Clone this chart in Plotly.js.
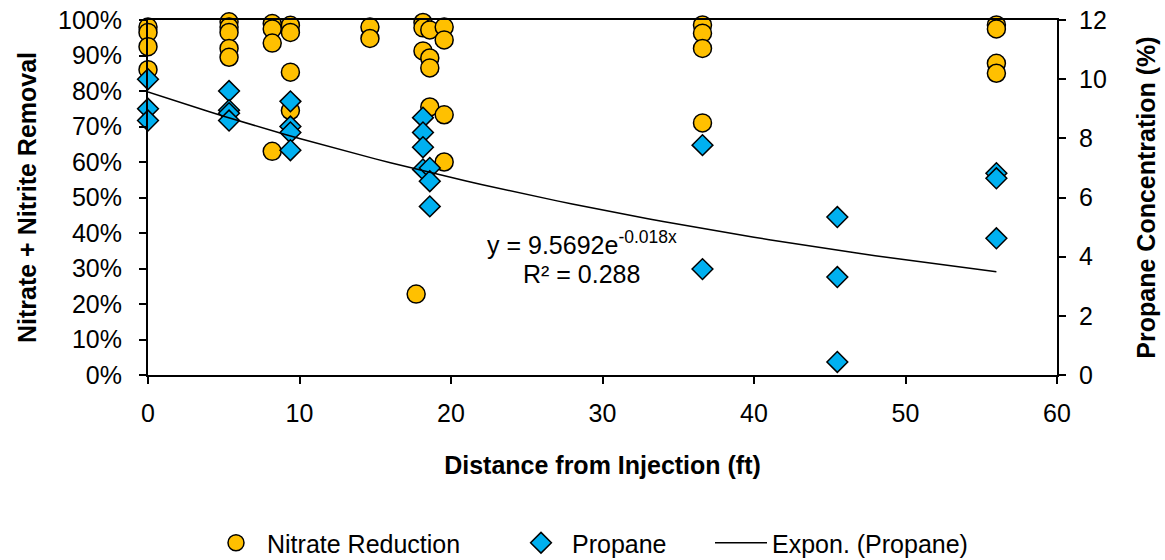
<!DOCTYPE html>
<html>
<head>
<meta charset="utf-8">
<script src="https://cdn.plot.ly/plotly-3.0.1.min.js"></script>
<style>html,body{margin:0;padding:0;background:#fff;}#chart{width:1165px;height:560px;}</style>
</head>
<body>
<div id="chart"></div>
<script>
// Nitrate + nitrite removal (%) vs distance (ft)
const nitrateX = [0,0,0,0,
  5.35,5.35,5.35,5.35,5.35,
  8.2,8.2,8.2,8.2,
  9.4,9.4,9.4,9.4,
  14.65,14.65,
  17.7,
  18.15,18.15,18.15,
  18.6,18.6,18.6,18.6,
  19.55,19.55,19.55,19.55,
  36.6,36.6,36.6,36.6,
  56,56,56,56];
const nitrateY = [98,96.5,92.5,86,
  99.5,98,96.5,92,89.5,
  99,97.5,93.5,63,
  98.5,96.5,85.3,74.5,
  98,94.8,
  22.8,
  99.3,97.8,91.3,
  97.2,89.3,86.5,75.5,
  98,94.4,73.3,60,
  98.6,96.3,92,71,
  98.6,97.5,87.8,85];

// Propane concentration (%) vs distance (ft)
const propaneX = [0,0,0,
  5.35,5.35,5.35,5.35,
  9.4,9.4,9.4,9.4,
  18.15,18.15,18.15,18.15,
  18.6,18.6,18.6,
  36.6,36.6,
  45.5,45.5,45.5,
  56,56,56];
const propaneY = [10.0,9.0,8.6,
  9.6,8.95,8.85,8.6,
  9.25,8.4,8.2,7.6,
  8.7,8.2,7.7,6.95,
  7.0,6.55,5.7,
  7.77,3.58,
  5.34,3.31,0.44,
  6.82,6.65,4.62];

// Exponential trendline shown on the chart: y = 9.5692 e^(-0.018x)
const trendA = 9.5692;
const trendB = -0.018;

const xTicks = [0,10,20,30,40,50,60];
const leftTicks = [0,10,20,30,40,50,60,70,80,90,100];
const rightTicks = [0,2,4,6,8,10,12];

const xMax = Math.max(...propaneX);
const trendX = [];
for (let i = 0; i <= 56; i++) trendX.push(xMax * i / 56);
const trendY = trendX.map(x => trendA * Math.exp(trendB * x));

const FONT = "Liberation Sans, Arial, sans-serif";
const FS = 25;

const traces = [
  {
    x: nitrateX, y: nitrateY, name: 'Nitrate Reduction', type: 'scatter', mode: 'markers',
    marker: {symbol: 'circle', size: 18, color: '#FFC000', line: {color: '#000', width: 1.5}},
    yaxis: 'y', cliponaxis: false, legend: 'legend'
  },
  {
    x: propaneX, y: propaneY, name: 'Propane', type: 'scatter', mode: 'markers',
    marker: {symbol: 'diamond', size: 16, color: '#00B0F0', line: {color: '#000', width: 1.5}},
    yaxis: 'y2', cliponaxis: false, legend: 'legend2'
  },
  {
    x: trendX, y: trendY, name: 'Expon. (Propane)', type: 'scatter', mode: 'lines',
    line: {color: '#000', width: 1.5}, yaxis: 'y2', legend: 'legend3'
  }
];

const legFont = {family: FONT, size: FS, color: '#000'};
const legY = (375-543)/355;

const layout = {
  width: 1165, height: 560,
  margin: {l: 148, r: 108, t: 20, b: 185, autoexpand: false},
  paper_bgcolor: '#fff', plot_bgcolor: '#fff',
  font: {family: FONT, size: FS, color: '#000'},
  showlegend: true,
  legend: {orientation: 'h', x: (205-148)/909, xanchor: 'left', y: legY, yanchor: 'middle', font: legFont, bgcolor: 'rgba(0,0,0,0)', itemwidth: 52},
  legend2: {orientation: 'h', x: (510-148)/909, xanchor: 'left', y: legY, yanchor: 'middle', font: legFont, bgcolor: 'rgba(0,0,0,0)', itemwidth: 52},
  legend3: {orientation: 'h', x: (710-148)/909, xanchor: 'left', y: legY, yanchor: 'middle', font: legFont, bgcolor: 'rgba(0,0,0,0)', itemwidth: 52},
  xaxis: {
    range: [0, 60], tickvals: xTicks, ticktext: xTicks.map(String),
    showline: true, linecolor: '#000', linewidth: 2, mirror: true,
    ticks: 'outside', ticklen: 7, tickwidth: 2, tickcolor: '#000', ticklabelstandoff: 8,
    showgrid: false, zeroline: false,
    tickfont: {family: FONT, size: FS},
    title: {text: '<b>Distance from Injection (ft)</b>', font: {family: FONT, size: FS}, standoff: 30}
  },
  yaxis: {
    range: [0, 100], tickvals: leftTicks, ticktext: leftTicks.map(v => v + '%'),
    showline: true, linecolor: '#000', linewidth: 2,
    ticks: 'outside', ticklen: 7, tickwidth: 2, tickcolor: '#000', ticklabelstandoff: 12,
    showgrid: false, zeroline: false,
    tickfont: {family: FONT, size: FS},
    title: {text: '<b>Nitrate + Nitrite Removal</b>', font: {family: FONT, size: FS}, standoff: 14}
  },
  yaxis2: {
    range: [0, 12], tickvals: rightTicks, ticktext: rightTicks.map(String),
    overlaying: 'y', side: 'right',
    showline: true, linecolor: '#000', linewidth: 2,
    ticks: 'outside', ticklen: 7, tickwidth: 2, tickcolor: '#000', ticklabelstandoff: 8,
    showgrid: false, zeroline: false,
    tickfont: {family: FONT, size: FS},
    title: {text: '<b>Propane Concentration (%)</b>', font: {family: FONT, size: FS}, standoff: 32}
  },
  annotations: [
    {xref: 'paper', yref: 'paper', x: (582-148)/909, y: (375-243)/355, xanchor: 'center', yanchor: 'middle',
     text: 'y = 9.5692e<sup>-0.018x</sup>', showarrow: false, font: {family: FONT, size: FS, color: '#000'}},
    {xref: 'paper', yref: 'paper', x: (581-148)/909, y: (375-274)/355, xanchor: 'center', yanchor: 'middle',
     text: 'R² = 0.288', showarrow: false, font: {family: FONT, size: FS, color: '#000'}}
  ]
};

Plotly.newPlot('chart', traces, layout, {displayModeBar: false, staticPlot: true});
</script>
</body>
</html>
